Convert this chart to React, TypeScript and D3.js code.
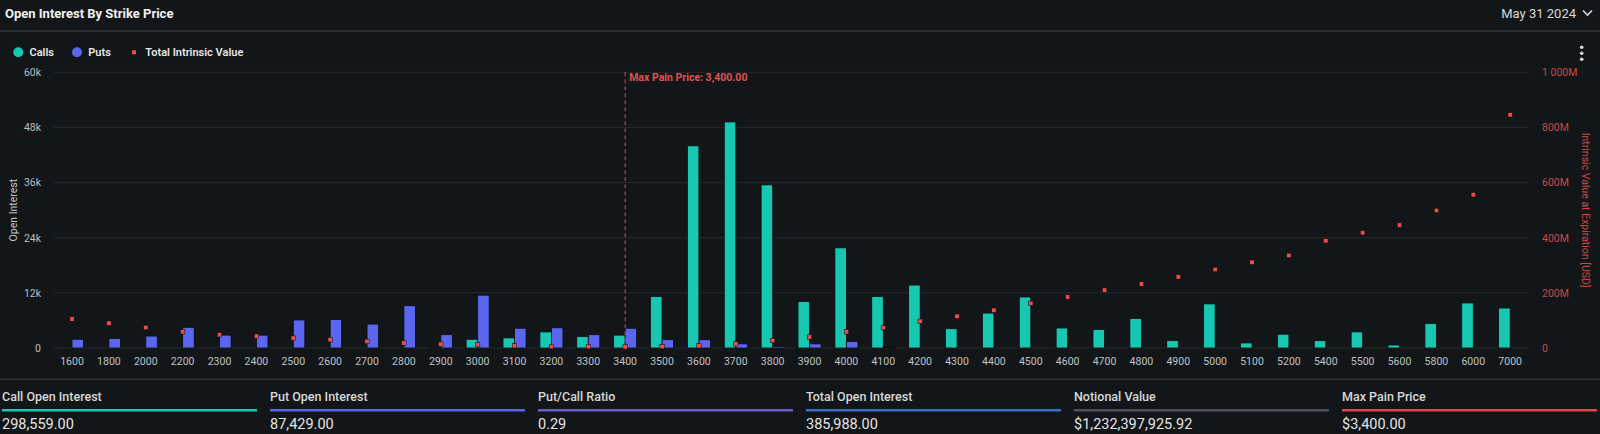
import { useEffect } from "react";
import * as d3 from "d3";

// strikes on the x axis
const strikes = [
  "1600", "1800", "2000", "2200", "2300", "2400", "2500", "2600", "2700", "2800",
  "2900", "3000", "3100", "3200", "3300", "3400", "3500", "3600", "3700", "3800",
  "3900", "4000", "4100", "4200", "4300", "4400", "4500", "4600", "4700", "4800",
  "4900", "5000", "5100", "5200", "5400", "5500", "5600", "5800", "6000", "7000",
];

// open interest, thousands of contracts
const calls = [
  0, 0, 0, 0, 0, 0, 0, 0, 0, 0,
  0.2, 1.9, 2.2, 3.5, 2.5, 2.8, 11.2, 44.0, 49.2, 35.5,
  10.1, 21.8, 11.2, 13.7, 4.2, 7.6, 11.1, 4.35, 4.0, 6.4,
  1.6, 9.6, 1.1, 3.0, 1.6, 3.5, 0.65, 5.3, 9.8, 8.7,
];
const puts = [
  1.9, 2.1, 2.6, 4.5, 2.8, 2.8, 6.1, 6.2, 5.2, 9.2,
  2.9, 11.5, 4.3, 4.4, 2.9, 4.3, 1.8, 1.8, 0.9, 0.3,
  0.9, 1.4, 0.15, 0, 0, 0, 0, 0, 0, 0,
  0, 0, 0, 0, 0, 0, 0, 0, 0, 0,
];

// total intrinsic value at expiration, millions USD
const intrinsic = [
  105, 90, 74, 59, 48, 43, 36, 30, 24, 18,
  14, 12, 8, 5, 5, 4, 5, 8, 15, 27,
  40, 59, 74, 97, 115, 137, 162, 185, 210, 232,
  258, 285, 311, 336, 389, 418, 446, 499, 556, 846,
];

const leftTicks = [0, 12, 24, 36, 48, 60];
const rightTicks = [0, 200, 400, 600, 800, 1000];
const maxPain = "3400";

const stats = [
  { label: "Call Open Interest", value: "298,559.00", color: "#19c7b1" },
  { label: "Put Open Interest", value: "87,429.00", color: "#5a63e6" },
  { label: "Put/Call Ratio", value: "0.29", color: "#6a5cc7" },
  { label: "Total Open Interest", value: "385,988.00", color: "#3b6cc6" },
  { label: "Notional Value", value: "$1,232,397,925.92", color: "#4a535d" },
  { label: "Max Pain Price", value: "$3,400.00", color: "#e04646" },
];

const CALL_COLOR = "#17c7b1";
const PUT_COLOR = "#5b66ee";
const DOT_COLOR = "#ec4c4c";
const BG = "#131618";
const GRID = "#25282c";
const FONT = "Roboto, 'Noto Sans', sans-serif";

export default function App() {
  useEffect(() => {
    document.body.style.margin = "0";
    document.body.style.background = BG;
  }, []);

  const width = 1600;
  const height = 434;
  const margin = { top: 72.3, left: 53.6, right: 1528.6, bottom: 348 };

  const x0 = d3.scaleBand().domain(strikes).range([margin.left, margin.right]);
  const x1 = d3
    .scaleBand()
    .domain(["calls", "puts"])
    .range([0, x0.bandwidth()])
    .paddingOuter(0.6);
  const yLeft = d3.scaleLinear().domain([0, 60]).range([margin.bottom, margin.top]);
  const yRight = d3.scaleLinear().domain([0, 1000]).range([margin.bottom, margin.top]);

  const fmtRight = (v: number) =>
    v === 0 ? "0" : v >= 1000 ? `${d3.format(",")(v).replace(",", " ")}M` : `${v}M`;

  const mpX = (x0(maxPain) ?? 0) + x0.bandwidth() / 2;
  const statStep = 268;
  const statWidth = 255;

  return (
    <div style={{ position: "absolute", left: 0, top: 0, width, height, background: BG }}>
      <svg width={width} height={height} style={{ display: "block", fontFamily: FONT }}>
        <rect x={0} y={0} width={width} height={height} fill={BG} />

        {/* header */}
        <text x={5} y={18} fill="#f0f0f0" fontSize={13} fontWeight={700}>
          Open Interest By Strike Price
        </text>
        <text x={1576} y={18} fill="#d8d8d8" fontSize={13} textAnchor="end">
          May 31 2024
        </text>
        <path d="M1583,10.5 L1587.5,15 L1592,10.5" fill="none" stroke="#d8d8d8" strokeWidth={1.6} />
        <rect x={0} y={30} width={width} height={2} fill="#2b2e32" />

        {/* legend */}
        <circle cx={18.3} cy={52.3} r={5} fill={CALL_COLOR} />
        <text x={29.5} y={56.2} fill="#e6e6e6" fontSize={11} fontWeight={600}>Calls</text>
        <circle cx={77} cy={52.3} r={5} fill={PUT_COLOR} />
        <text x={88.3} y={56.2} fill="#e6e6e6" fontSize={11} fontWeight={600}>Puts</text>
        <rect x={132} y={50.3} width={4} height={4} fill={DOT_COLOR} />
        <text x={145.3} y={56.2} fill="#e6e6e6" fontSize={11} fontWeight={600}>Total Intrinsic Value</text>

        {[47.3, 53.3, 59.3].map((cy) => (
          <circle key={cy} cx={1581.7} cy={cy} r={1.8} fill="#d8d8d8" />
        ))}

        {/* grid + left axis */}
        {leftTicks.map((t) => (
          <g key={`l${t}`}>
            <line x1={margin.left} x2={margin.right} y1={yLeft(t)} y2={yLeft(t)} stroke={GRID} strokeWidth={1} />
            <text x={41} y={yLeft(t) + 3.8} fill="#b9bdc1" fontSize={10.5} textAnchor="end">
              {t === 0 ? "0" : `${t}k`}
            </text>
          </g>
        ))}
        <text
          transform={`translate(17,${(margin.top + margin.bottom) / 2}) rotate(-90)`}
          fill="#c4c7ca"
          fontSize={10.5}
          textAnchor="middle"
        >
          Open Interest
        </text>

        {/* right axis */}
        {rightTicks.map((t) => (
          <text key={`r${t}`} x={1542} y={yRight(t) + 3.8} fill="#c9494a" fontSize={10.5}>
            {fmtRight(t)}
          </text>
        ))}
        <text
          transform={`translate(1582,${(margin.top + margin.bottom) / 2}) rotate(90)`}
          fill="#cf4646"
          fontSize={10.5}
          textAnchor="middle"
        >
          Intrinsic Value at Expiration [USD]
        </text>

        {/* bars */}
        {strikes.map((s, i) => {
          const gx = x0(s) ?? 0;
          return (
            <g key={s} transform={`translate(${gx},0)`}>
              {calls[i] > 0 && (
                <rect
                  x={x1("calls")}
                  y={yLeft(calls[i])}
                  width={x1.bandwidth()}
                  height={yLeft(0) - yLeft(calls[i])}
                  fill={CALL_COLOR}
                  stroke="#0a0c0d"
                  strokeWidth={0.8}
                />
              )}
              {puts[i] > 0 && (
                <rect
                  x={x1("puts")}
                  y={yLeft(puts[i])}
                  width={x1.bandwidth()}
                  height={yLeft(0) - yLeft(puts[i])}
                  fill={PUT_COLOR}
                  stroke="#0a0c0d"
                  strokeWidth={0.8}
                />
              )}
            </g>
          );
        })}

        {/* intrinsic value dots */}
        {strikes.map((s, i) => (
          <rect
            key={`d${s}`}
            x={(x0(s) ?? 0) + x0.bandwidth() / 2 - 2.2}
            y={yRight(intrinsic[i]) - 2.2}
            width={4.4}
            height={4.4}
            fill={DOT_COLOR}
            stroke="#0a0c0d"
            strokeWidth={0.5}
          />
        ))}

        {/* max pain marker */}
        <line
          x1={mpX}
          x2={mpX}
          y1={margin.top}
          y2={margin.bottom}
          stroke="#e04a4a"
          strokeWidth={1}
          strokeDasharray="4,3"
        />
        <text x={mpX + 4} y={81} fill="#e05252" fontSize={10.5} fontWeight={700}>
          Max Pain Price: 3,400.00
        </text>

        {/* x labels */}
        {strikes.map((s) => (
          <text
            key={`x${s}`}
            x={(x0(s) ?? 0) + x0.bandwidth() / 2}
            y={365}
            fill="#bfc3c7"
            fontSize={10.5}
            textAnchor="middle"
          >
            {s}
          </text>
        ))}

        {/* stats footer */}
        <rect x={0} y={378.5} width={width} height={1.5} fill="#2b2e32" />
        {stats.map((st, i) => {
          const sx = 2 + i * statStep;
          return (
            <g key={st.label}>
              <text x={sx} y={400.5} fill="#d6d8da" fontSize={12.5} fontWeight={500}>
                {st.label}
              </text>
              <rect x={sx} y={409} width={statWidth} height={2.5} fill={st.color} />
              <text x={sx} y={429} fill="#e2e4e6" fontSize={14.5}>
                {st.value}
              </text>
            </g>
          );
        })}
      </svg>
    </div>
  );
}
